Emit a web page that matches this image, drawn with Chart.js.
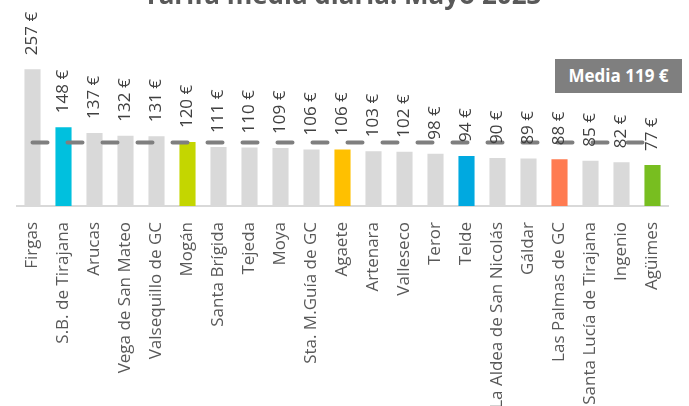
<!DOCTYPE html>
<html lang="es">
<head>
    <meta charset="UTF-8">
    <title>Tarifa media diaria. Mayo 2023</title>
    <script src="https://cdn.jsdelivr.net/npm/chart.js"></script>
    <style>
        body {
            margin: 0;
            background: white;
            font-family: "Open Sans", sans-serif;
        }
        #wrap {
            position: relative;
            width: 689px;
            height: 406px;
            overflow: hidden;
        }
        #holder {
            position: absolute;
            left: 0;
            top: -24px;
            width: 689px;
            height: 430px;
        }
        #badge {
            position: absolute;
            left: 555px;
            top: 59px;
            width: 127px;
            height: 34px;
            background: #7f7f7f;
            color: white;
            font-weight: bold;
            font-size: 17px;
            line-height: 34px;
            text-align: center;
        }
    </style>
</head>
<body>
<div id="wrap">
    <div id="holder"><canvas id="tarifaChart"></canvas></div>
    <div id="badge"></div>
</div>

<script>
    const municipios = ["Firgas", "S.B. de Tirajana", "Arucas", "Vega de San Mateo", "Valsequillo de GC",
        "Mogán", "Santa Brígida", "Tejeda", "Moya", "Sta. M.Guía de GC", "Agaete", "Artenara",
        "Valleseco", "Teror", "Telde", "La Aldea de San Nicolás", "Gáldar", "Las Palmas de GC",
        "Santa Lucía de Tirajana", "Ingenio", "Agüimes"];
    const tarifas = [257, 148, 137, 132, 131, 120, 111, 110, 109, 106, 106, 103, 102, 98, 94, 90, 89, 88, 85, 82, 77];
    const colores = ["#d9d9d9", "#00c0de", "#d9d9d9", "#d9d9d9", "#d9d9d9", "#c4d600", "#d9d9d9", "#d9d9d9",
        "#d9d9d9", "#d9d9d9", "#ffc000", "#d9d9d9", "#d9d9d9", "#d9d9d9", "#00a9e0", "#d9d9d9", "#d9d9d9",
        "#ff7b51", "#d9d9d9", "#d9d9d9", "#78be20"];
    const media = 119;

    document.getElementById("badge").textContent = "Media " + media + " €";

    // linea de la media + etiquetas encima de cada barra
    const extras = {
        id: 'extras',
        afterDatasetsDraw(chart) {
            const ctx = chart.ctx;
            const bars = chart.getDatasetMeta(0).data;
            const y = chart.scales.y.getPixelForValue(media);

            ctx.save();
            ctx.strokeStyle = '#7f7f7f';
            ctx.lineWidth = 4;
            ctx.lineCap = 'round';
            ctx.setLineDash([15, 20]);
            ctx.beginPath();
            ctx.moveTo(bars[0].x, y);
            ctx.lineTo(bars[bars.length - 1].x, y);
            ctx.stroke();
            ctx.restore();

            ctx.save();
            ctx.fillStyle = '#404040';
            ctx.font = '17px "Open Sans"';
            ctx.textAlign = 'left';
            ctx.textBaseline = 'middle';
            bars.forEach((bar, i) => {
                ctx.save();
                ctx.translate(bar.x, bar.y - 14);
                ctx.rotate(-Math.PI / 2);
                ctx.fillText(tarifas[i] + ' €', 0, 0);
                ctx.restore();
            });
            ctx.restore();
        }
    };

    new Chart(document.getElementById('tarifaChart'), {
        type: 'bar',
        data: {
            labels: municipios,
            datasets: [{
                data: tarifas,
                backgroundColor: colores,
                categoryPercentage: 1,
                barPercentage: 0.52
            }]
        },
        options: {
            responsive: true,
            maintainAspectRatio: false,
            animation: false,
            layout: { padding: { left: 17, right: 21, top: 5.4 } },
            plugins: {
                legend: { display: false },
                tooltip: { enabled: false },
                title: {
                    display: true,
                    text: 'Tarifa media diaria. Mayo 2023',
                    color: '#595959',
                    font: { family: 'Open Sans', size: 26, weight: 'bold', lineHeight: 1.2 },
                    padding: { top: 0, bottom: 3.8 }
                }
            },
            scales: {
                x: {
                    grid: { display: false },
                    border: { display: true, color: '#d9d9d9', width: 2 },
                    ticks: {
                        color: '#595959',
                        font: { family: 'Open Sans', size: 17 },
                        minRotation: 90,
                        maxRotation: 90,
                        padding: 8,
                        autoSkip: false
                    },
                    afterFit(scale) { scale.height = 200; }
                },
                y: {
                    display: false,
                    min: 0,
                    max: 356
                }
            }
        },
        plugins: [extras]
    });
</script>
</body>
</html>
